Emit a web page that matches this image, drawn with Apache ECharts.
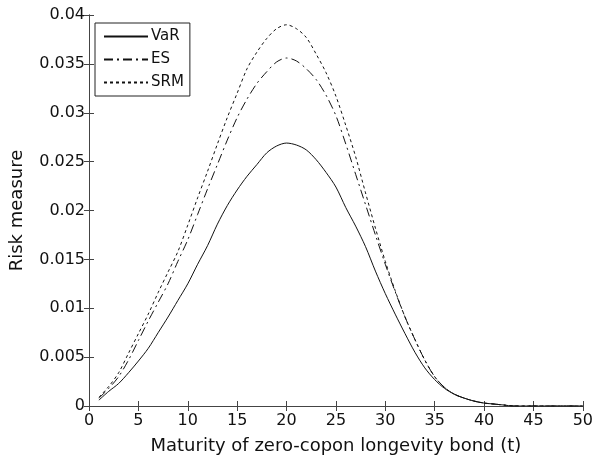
<!DOCTYPE html>
<html><head><meta charset="utf-8">
<script src="https://cdn.jsdelivr.net/npm/echarts@6/dist/echarts.min.js"></script>
<style>html,body{margin:0;padding:0;background:#fff}#c{width:596px;height:460px}</style>
</head><body><div id="c"></div>
<script>
const maturity = [1,2,3,4,5,6,7,8,9,10,11,12,13,14,15,16,17,18,19,20,21,22,23,24,25,26,27,28,29,30,31,32,33,34,35,36,37,38,39,40,41,42,43,44,45,46,47,48,49,50];
const varValues = [0.0006,0.0015,0.0023,0.0034,0.0046,0.0059,0.0075,0.0091,0.0108,0.0125,0.0145,0.0164,0.0186,0.0205,0.0221,0.0235,0.0247,0.0259,0.0266,0.0269,0.0267,0.0262,0.0252,0.0239,0.0224,0.0203,0.0184,0.0163,0.0138,0.0115,0.0094,0.0074,0.0055,0.0039,0.0027,0.0018,0.0012,0.0008,0.0005,0.0003,0.0002,0.0001,0,0,0,0,0,0,0,0];
const esValues = [0.0008,0.0018,0.0030,0.0047,0.0067,0.0087,0.0106,0.0125,0.0148,0.0170,0.0196,0.0222,0.0247,0.0272,0.0295,0.0314,0.0330,0.0342,0.0352,0.0356,0.0353,0.0345,0.0334,0.0318,0.0297,0.0268,0.0237,0.0206,0.0175,0.0145,0.0117,0.0091,0.0068,0.0047,0.0030,0.0019,0.0012,0.0008,0.0005,0.0003,0.0002,0.0001,0,0,0,0,0,0,0,0];
const srmValues = [0.0009,0.0020,0.0034,0.0054,0.0074,0.0094,0.0116,0.0137,0.0158,0.0185,0.0213,0.0240,0.0268,0.0295,0.0320,0.0345,0.0362,0.0376,0.0386,0.0390,0.0386,0.0377,0.0360,0.0341,0.0317,0.0287,0.0255,0.0218,0.0182,0.0148,0.0118,0.0091,0.0068,0.0047,0.0030,0.0019,0.0012,0.0008,0.0005,0.0003,0.0002,0.0001,0,0,0,0,0,0,0,0];
const seriesNames = ['VaR','ES','SRM'];
const xTitle = 'Maturity of zero-copon longevity bond (t)';
const yTitle = 'Risk measure';

const pairs = arr => maturity.map((t,i)=>[t,arr[i]]);
const font = 'DejaVu Sans, Liberation Sans, sans-serif';
const axisCommon = {
  axisLine:{show:true,lineStyle:{color:'#444',width:1}},
  axisTick:{show:true,inside:true,length:5,lineStyle:{color:'#444'}},
  splitLine:{show:false}
};
const chart = echarts.init(document.getElementById('c'));
chart.setOption({
  animation:false,
  backgroundColor:'#fff',
  grid:{left:85,right:9,top:15,bottom:50,containLabel:false},
  legend:{
    data:seriesNames, orient:'vertical', left:95, top:23,
    itemWidth:44, itemHeight:10, itemGap:8,
    padding:[6,6,6,8],
    borderColor:'#222', borderWidth:1, backgroundColor:'#fff',
    itemStyle:{opacity:0},
    textStyle:{fontFamily:font,fontSize:15,color:'#111',padding:[0,0,0,-2]}
  },
  xAxis:[
    Object.assign({type:'value',min:0,max:50,interval:5,position:'bottom',
      name:xTitle,nameLocation:'middle',nameGap:31,
      nameTextStyle:{fontFamily:font,fontSize:18,color:'#111'},
      axisLabel:{fontFamily:font,fontSize:16,color:'#111',margin:7}},axisCommon),
    Object.assign({type:'value',min:0,max:50,interval:5,position:'top',
      axisLabel:{show:false}},axisCommon)
  ],
  yAxis:[
    Object.assign({type:'value',min:0,max:0.04,interval:0.005,position:'left',
      name:yTitle,nameLocation:'middle',nameGap:63,
      nameTextStyle:{fontFamily:font,fontSize:18,color:'#111'},
      axisLabel:{fontFamily:font,fontSize:16,color:'#111',margin:4}},axisCommon),
    Object.assign({type:'value',min:0,max:0.04,interval:0.005,position:'right',
      axisLabel:{show:false}},axisCommon)
  ],
  series:[
    {name:'VaR',type:'line',data:pairs(varValues),showSymbol:false,symbol:'none',smooth:0.3,
      lineStyle:{color:'#111',width:1,type:'solid'},itemStyle:{color:'#111'}},
    {name:'ES',type:'line',data:pairs(esValues),showSymbol:false,symbol:'none',smooth:0.3,
      lineStyle:{color:'#111',width:1,type:[9,4,2,4]},itemStyle:{color:'#111'}},
    {name:'SRM',type:'line',data:pairs(srmValues),showSymbol:false,symbol:'none',smooth:0.3,
      lineStyle:{color:'#111',width:1,type:[3,3]},itemStyle:{color:'#111'}}
  ]
});
</script></body></html>
